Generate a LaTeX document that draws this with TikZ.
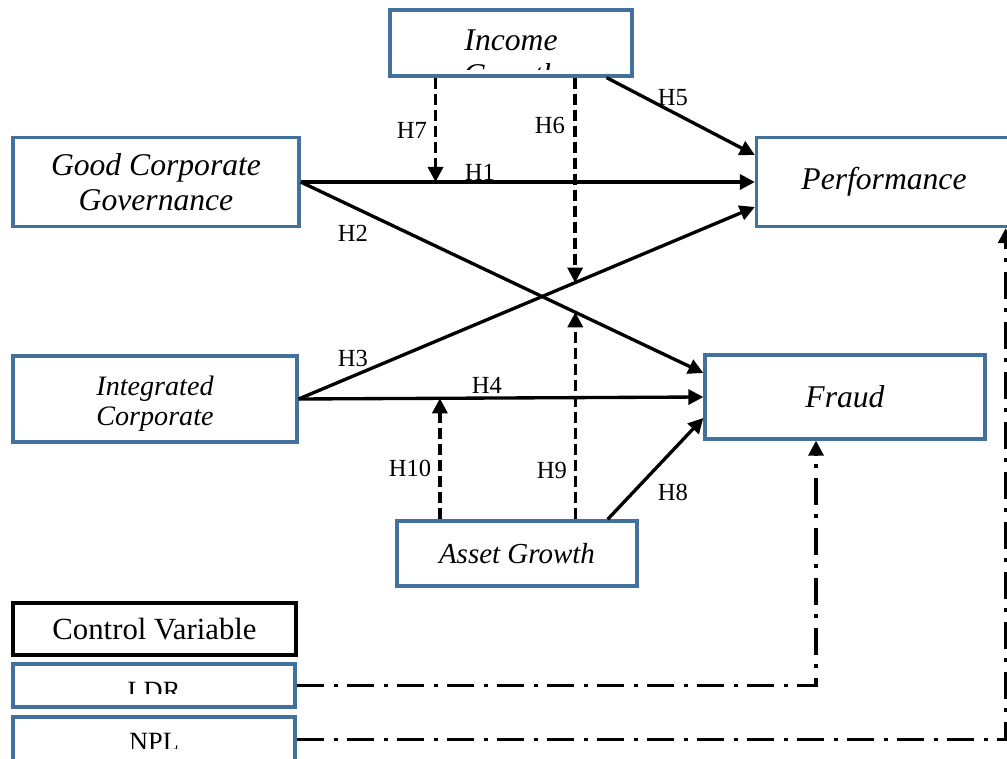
\documentclass[tikz,border=0pt]{standalone}
\usepackage{fontspec}
\setmainfont{Liberation Serif}
\usetikzlibrary{arrows.meta,calc}
\definecolor{boxBlue}{RGB}{65,113,156}
\tikzset{
  var/.style={draw=boxBlue,line width=1.9pt,fill=white,inner sep=0pt,align=center,
              font=\fontsize{18}{20}\selectfont\itshape},
  cvhead/.style={draw=black,line width=2.3pt,fill=white,inner sep=0pt,
                 font=\fontsize{17.5}{20}\selectfont},
  % text clipped inside its box: shift, bottom inset, font, text
  cliptext/.style n args={4}{path picture={
      \clip ([yshift=#2]path picture bounding box.south west) rectangle (path picture bounding box.north east);
      \node[inner sep=0pt,align=center,font=#3] at ([yshift=#1]path picture bounding box.center) {#4};}},
  hyp/.style={-{Triangle[length=3mm,width=3mm]},line width=1.9pt},
  moder/.style={hyp,dash pattern=on 2.2mm off 1mm},
  ctrl/.style={hyp,dash pattern=on 5.4mm off 2mm on 0.8mm off 1.8mm},
  hlab/.style={font=\fontsize{14}{16}\selectfont,inner sep=0pt},
}
\begin{document}
\begin{tikzpicture}[x=0.02cm,y=-0.02cm]
  \useasboundingbox (0,0) rectangle (1007,759);

  % variables
  \node[var,minimum width=48.4mm,minimum height=13.2mm,
        cliptext={-8.5pt}{1.3mm}{\fontsize{18}{20}\selectfont\itshape}{Income\\Growth}] (inc) at (511,43) {};
  \node[var,minimum width=57.2mm,minimum height=17.8mm] (gcg) at (156,182) {Good Corporate\\Governance};
  \node[var,minimum width=56.8mm,minimum height=17.2mm,
        cliptext={-2.5pt}{0pt}{\fontsize{16}{17}\selectfont\itshape}{Integrated\\Corporate}] (icg) at (155,399) {};
  \node[var,minimum width=51mm,minimum height=17.8mm] (perf) at (884,182) {Performance};
  \node[var,minimum width=56mm,minimum height=16.8mm] (fraud) at (845,397) {Fraud};
  \node[var,minimum width=48mm,minimum height=13mm,font=\fontsize{16.5}{18}\selectfont\itshape] (ag) at (517,553.5) {Asset Growth};

  % control variables
  \node[cvhead,minimum width=56.6mm,minimum height=10.4mm] (cv) at (154.5,629) {Control Variable};
  \node[var,minimum width=56.4mm,minimum height=8.6mm,
        cliptext={-3.1pt}{2.6mm}{\fontsize{15}{17}\selectfont}{LDR}] (ldr) at (154,685.5) {};
  \node[var,minimum width=56.4mm,minimum height=9mm,
        cliptext={-1.4pt}{2.8mm}{\fontsize{15}{17}\selectfont}{NPL}] (npl) at (154,739.5) {};

  \coordinate (h2end) at ([yshift=4.8mm]fraud.west);
  \coordinate (h3end) at ([yshift=-5mm]perf.west);
  \coordinate (h5start) at ([xshift=-5.4mm]inc.south east);
  \coordinate (h5end) at ([yshift=5.4mm]perf.west);
  \coordinate (h8start) at ([xshift=-6.2mm]ag.north east);
  \coordinate (h8end) at ([yshift=-4.2mm]fraud.west);

  % direct paths
  \draw[hyp] (gcg.east) -- (perf.west) coordinate[pos=0.297] (m7);
  \draw[hyp] (gcg.east) -- (h2end) coordinate[pos=0.682] (m9);
  \draw[hyp] (icg.east) -- (h3end) coordinate[pos=0.606] (m6);
  \draw[hyp] (icg.east) -- (fraud.west) coordinate[pos=0.349] (m10);
  \draw[hyp] (h5start) -- (h5end);
  \draw[hyp] (h8start) -- (h8end);

  % moderating paths
  \draw[moder] (m7 |- inc.south) -- (m7);
  \draw[moder] (m6 |- inc.south) -- (m6);
  \draw[moder] (m9 |- ag.north) -- (m9);
  \draw[moder] (m10 |- ag.north) -- (m10);

  % control paths
  \coordinate (ldrin) at ([xshift=-5.8mm]fraud.south);
  \coordinate (nplin) at ([xshift=-1.5mm]perf.south east);
  \draw[ctrl] (ldr.east) -| (ldrin);
  \draw[ctrl] (npl.east) -| (nplin);

  \node[hlab] (lh1) at (480,172) {H1};
  \node[hlab] (lh2) at (353,233) {H2};
  \node[hlab] (lh3) at (353,358) {H3};
  \node[hlab] (lh4) at (487,385) {H4};
  \node[hlab] (lh5) at (673,98) {H5};
  \node[hlab] (lh6) at (550,125) {H6};
  \node[hlab] (lh7) at (412,130) {H7};
  \node[hlab] (lh8) at (673,492) {H8};
  \node[hlab] (lh9) at (552,470) {H9};
  \node[hlab] (lh10) at (410,468) {H10};
\end{tikzpicture}
\end{document}
